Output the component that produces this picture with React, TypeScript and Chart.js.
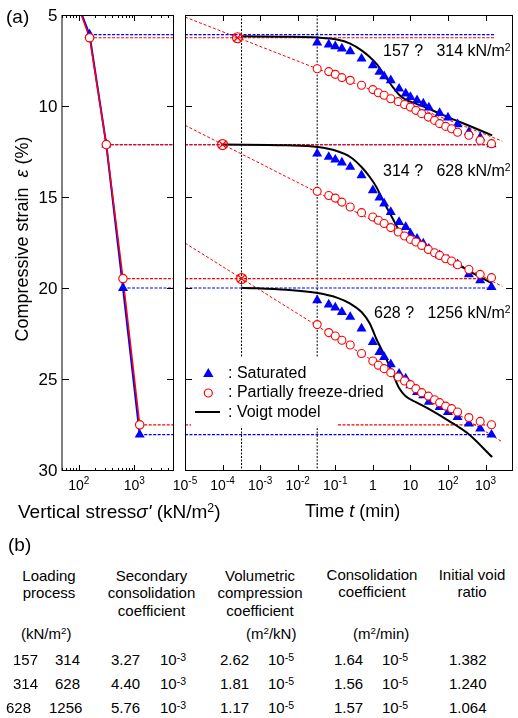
import React, { useEffect, useRef } from "react";
import { Chart, registerables } from "chart.js";

Chart.register(...registerables);

const FONT = '"Liberation Sans", Arial, Helvetica, sans-serif';
const RED = "#ff0000";
const BLUE = "#0000ff";

// ---------- axes ----------
const strainMin = 5;
const strainMax = 30;
const strainTickLabels = [5, 10, 15, 20, 25, 30];
const strainInnerTicks = [10, 15, 20, 25];

const stressMin = 50;
const stressMax = 5000;
const stressMajorTicks = [100, 1000];
const stressMinorTicks = [50, 60, 70, 80, 90, 200, 300, 400, 500, 600, 700, 800, 900, 2000, 3000, 4000, 5000];
const stressTickBase = ["10", "10"];
const stressTickExp = ["2", "3"];

const timeMin = 1e-5;
const timeMax = 5000;
const timeTicks = [1e-5, 1e-4, 1e-3, 1e-2, 1e-1, 1, 10, 100, 1000];
const timeTickBase = ["10", "10", "10", "10", "10", "1", "10", "10", "10"];
const timeTickExp = ["-5", "-4", "-3", "-2", "-1", "", "", "2", "3"];

// ---------- left panel: strain vs vertical stress ----------
const stressPath = [78.5, 157, 314, 628, 1256];
const satPathStrain = [3.7, 6.08, 12.12, 20.0, 28.06];
const pfdPathStrain = [3.7, 6.25, 12.12, 19.48, 27.52];
const levelStress = [157, 314, 628, 1256];
const satLevelStrain = [6.08, 12.12, 20.0, 28.06];
const pfdLevelStrain = [6.25, 12.12, 19.48, 27.52];
const levelLineEndTime = 1700;

// ---------- right panel: strain vs time ----------
const satTimes = [0.033, 0.067, 0.1, 0.15, 0.25, 0.5, 1, 1.5, 2, 3, 5, 7.5, 10, 15, 22, 31, 60, 100, 180, 360, 720, 1440];
const sat157to314 = [6.52, 6.63, 6.72, 6.85, 7.0, 7.4, 7.77, 8.13, 8.37, 8.59, 9.05, 9.32, 9.51, 9.69, 9.87, 10.09, 10.39, 10.64, 11.01, 11.43, 11.74, 12.11];
const sat314to628 = [12.62, 12.8, 12.95, 13.11, 13.35, 13.81, 14.63, 15.03, 15.36, 15.83, 16.38, 16.65, 17.01, 17.29, 17.56, 17.84, 18.21, 18.44, 18.7, 19.25, 19.58, 19.95];
const sat628to1256 = [20.68, 20.91, 21.08, 21.32, 21.59, 22.23, 22.97, 23.52, 23.79, 24.19, 24.71, 24.98, 25.35, 25.72, 25.9, 26.26, 26.54, 26.82, 27.09, 27.45, 27.73, 28.06];

const pfdTimes = [0.033, 0.067, 0.1, 0.15, 0.25, 0.5, 1, 1.4, 2, 3, 4.75, 7, 10, 14, 20, 30, 44, 60, 87, 125, 180, 360, 720, 1440];
const pfd157to314 = [7.95, 8.11, 8.26, 8.44, 8.59, 8.86, 9.1, 9.27, 9.41, 9.6, 9.76, 9.92, 10.06, 10.24, 10.42, 10.61, 10.79, 10.97, 11.12, 11.25, 11.44, 11.61, 11.89, 12.07];
const pfd314to628 = [14.69, 14.92, 15.06, 15.28, 15.55, 15.86, 16.1, 16.28, 16.46, 16.68, 16.92, 17.14, 17.33, 17.47, 17.66, 17.88, 18.06, 18.21, 18.39, 18.52, 18.72, 18.98, 19.25, 19.43];
const pfd628to1256 = [22.01, 22.45, 22.64, 22.87, 23.13, 23.6, 24.01, 24.24, 24.43, 24.65, 24.89, 25.11, 25.31, 25.53, 25.75, 25.94, 26.14, 26.3, 26.49, 26.63, 26.81, 27.12, 27.33, 27.51];

const voigtStartTimes = [3.2e-4, 1e-4, 3.2e-4];
const voigtStartStrain = [6.17, 12.12, 19.98];
const voigtTimes = [0.005, 0.034, 0.11, 0.25, 0.5, 0.83, 1.24, 2.05, 3.4, 5, 7.5, 14, 30, 100, 340, 1500];
const voigt157to314 = [6.19, 6.24, 6.35, 6.57, 6.94, 7.31, 7.67, 8.31, 8.96, 9.38, 9.65, 9.87, 10.14, 10.61, 11.06, 11.61];
const voigt314to628 = [12.16, 12.25, 12.47, 12.8, 13.35, 13.9, 14.45, 15.36, 16.19, 16.83, 17.2, 17.44, 17.84, 18.39, 19.03, 19.76];
const voigt628to1256 = [20.1, 20.28, 20.53, 20.86, 21.32, 21.95, 22.8, 23.7, 24.7, 25.5, 25.95, 26.27, 26.63, 27.27, 28.0, 29.29];

const fitTimes = [1e-5, 2800];
const fit157to314 = [5.11, 11.93];
const fit314to628 = [11.06, 19.91];
const fit628to1256 = [17.53, 28.46];

const crossTimes = [2.5e-4, 1e-4, 3.2e-4];
const crossStrain = [6.25, 12.12, 19.48];

const guideTimes = [3.2e-4, 0.033];

// ---------- table (b) ----------
const loadFrom = ["157", "314", "628"];
const loadTo = ["314", "628", "1256"];
const secondaryCoef = ["3.27", "4.40", "5.76"];
const secondaryExp = ["-3", "-3", "-3"];
const volumetricCoef = ["2.62", "1.81", "1.17"];
const volumetricExp = ["-5", "-5", "-5"];
const consolidationCoef = ["1.64", "1.56", "1.57"];
const consolidationExp = ["-5", "-5", "-5"];
const initialVoidRatio = ["1.382", "1.240", "1.064"];

const pts = (xs: number[], ys: number[]) => xs.map((x, i) => ({ x, y: ys[i] }));

function frameTicksPlugin(opts: any) {
  return {
    id: "frameTicks",
    afterDraw(chart: any) {
      const ctx = chart.ctx;
      const a = chart.chartArea;
      const xs = chart.scales.x;
      const ys = chart.scales.y;
      const L = Math.round(a.left);
      const R = Math.round(a.right);
      const T = Math.round(a.top);
      const B = Math.round(a.bottom);
      ctx.save();
      ctx.setLineDash([]);
      ctx.strokeStyle = "#000";
      ctx.lineWidth = 1;
      ctx.beginPath();
      ctx.moveTo(L, T + 0.5);
      ctx.lineTo(R + 1, T + 0.5);
      ctx.moveTo(L, B + 0.5);
      ctx.lineTo(R + 1, B + 0.5);
      ctx.moveTo(R + 0.5, T);
      ctx.lineTo(R + 0.5, B + 1);
      ctx.stroke();
      ctx.strokeStyle = opts.leftColor;
      ctx.lineWidth = opts.leftWidth;
      ctx.beginPath();
      const lx = opts.leftWidth % 2 === 1 ? L + 0.5 : L;
      ctx.moveTo(lx, T);
      ctx.lineTo(lx, B + 1);
      ctx.stroke();

      ctx.strokeStyle = "#000";
      ctx.lineWidth = 1;
      ctx.beginPath();
      for (const v of opts.yTicks) {
        const p = Math.round(ys.getPixelForValue(v)) + 0.5;
        ctx.moveTo(L, p);
        ctx.lineTo(L + 7, p);
        ctx.moveTo(R + 1, p);
        ctx.lineTo(R - 6, p);
      }
      for (const v of opts.xMajor) {
        const p = Math.round(xs.getPixelForValue(v)) + 0.5;
        ctx.moveTo(p, B + 1);
        ctx.lineTo(p, B - 5);
        ctx.moveTo(p, T);
        ctx.lineTo(p, T + 6);
      }
      for (const v of opts.xMinor) {
        const p = Math.round(xs.getPixelForValue(v)) + 0.5;
        ctx.moveTo(p, B + 1);
        ctx.lineTo(p, B - 2);
        ctx.moveTo(p, T);
        ctx.lineTo(p, T + 3);
      }
      ctx.stroke();

      ctx.fillStyle = "#000";
      ctx.textAlign = "left";
      ctx.textBaseline = "alphabetic";
      opts.xLabelValues.forEach((v: number, i: number) => {
        const p = xs.getPixelForValue(v);
        const b = opts.xLabelBase[i];
        const e = opts.xLabelExp[i];
        ctx.font = `14px ${FONT}`;
        const wb = ctx.measureText(b).width;
        ctx.font = `10px ${FONT}`;
        const we = e ? ctx.measureText(e).width : 0;
        const start = p - (wb + we) / 2;
        ctx.font = `14px ${FONT}`;
        ctx.fillText(b, start, 490);
        if (e) {
          ctx.font = `10px ${FONT}`;
          ctx.fillText(e, start + wb, 483.5);
        }
      });
      if (opts.yLabels) {
        ctx.font = `17px ${FONT}`;
        ctx.textAlign = "right";
        for (const v of opts.yLabels) {
          const p = ys.getPixelForValue(v);
          ctx.fillText(String(v), L - 4.5, p + 6);
        }
      }
      ctx.restore();
    },
  };
}

const legendPlugin = {
  id: "legendBox",
  afterDatasetsDraw(chart: any) {
    const ctx = chart.ctx;
    ctx.save();
    ctx.setLineDash([]);
    ctx.fillStyle = "#fff";
    ctx.fillRect(21, 357, 146, 69.5);
    // triangle
    const tx = 38.3;
    const ty = 374;
    const r = 6;
    ctx.fillStyle = BLUE;
    ctx.beginPath();
    ctx.moveTo(tx, ty - r);
    ctx.lineTo(tx + r * 0.866, ty + r / 2);
    ctx.lineTo(tx - r * 0.866, ty + r / 2);
    ctx.closePath();
    ctx.fill();
    // circle
    ctx.strokeStyle = RED;
    ctx.lineWidth = 1.2;
    ctx.fillStyle = "#fff";
    ctx.beginPath();
    ctx.arc(38.3, 393, 4, 0, Math.PI * 2);
    ctx.fill();
    ctx.stroke();
    // line
    ctx.strokeStyle = "#000";
    ctx.lineWidth = 2;
    ctx.beginPath();
    ctx.moveTo(25, 412);
    ctx.lineTo(50, 412);
    ctx.stroke();
    ctx.restore();
  },
};

const baseOptions = (padding: any, xMin: number, xMax: number) => ({
  responsive: false,
  maintainAspectRatio: false,
  animation: false,
  devicePixelRatio: 1,
  events: [],
  layout: { padding },
  plugins: { legend: { display: false }, tooltip: { enabled: false } },
  scales: {
    x: { type: "logarithmic", min: xMin, max: xMax, display: false },
    y: { type: "linear", min: strainMin, max: strainMax, reverse: true, display: false },
  },
});

const dotted = (data: any[], color: string, dash: number[] = [3, 1.5], width = 1.2) => ({
  data,
  showLine: true,
  pointRadius: 0,
  borderColor: color,
  borderWidth: width,
  borderDash: dash,
  fill: false,
});

function leftConfig(): any {
  const datasets: any[] = [];
  datasets.push({
    data: pts(levelStress, pfdLevelStrain),
    showLine: false,
    pointStyle: "circle",
    pointRadius: 4.2,
    borderColor: RED,
    backgroundColor: "#fff",
    borderWidth: 1.2,
  });
  datasets.push({
    data: pts(levelStress, satLevelStrain),
    showLine: false,
    pointStyle: "triangle",
    pointRadius: 5.8,
    borderColor: BLUE,
    backgroundColor: BLUE,
    borderWidth: 0,
  });
  datasets.push({ data: pts(stressPath, pfdPathStrain), showLine: true, pointRadius: 0, borderColor: RED, borderWidth: 1.5 });
  datasets.push({ data: pts(stressPath, satPathStrain), showLine: true, pointRadius: 0, borderColor: BLUE, borderWidth: 2 });
  levelStress.forEach((s, i) => {
    datasets.push(dotted([{ x: s, y: pfdLevelStrain[i] }, { x: stressMax, y: pfdLevelStrain[i] }], RED));
  });
  levelStress.forEach((s, i) => {
    datasets.push(dotted([{ x: s, y: satLevelStrain[i] }, { x: stressMax, y: satLevelStrain[i] }], BLUE));
  });
  return {
    type: "scatter",
    data: { datasets },
    options: baseOptions({ left: 62, right: 7, top: 15, bottom: 60 }, stressMin, stressMax),
    plugins: [
      frameTicksPlugin({
        leftColor: "#808080",
        leftWidth: 2,
        yTicks: strainInnerTicks,
        xMajor: stressMajorTicks,
        xMinor: stressMinorTicks,
        xLabelValues: stressMajorTicks,
        xLabelBase: stressTickBase,
        xLabelExp: stressTickExp,
        yLabels: strainTickLabels,
      }),
    ],
  };
}

function rightConfig(): any {
  const datasets: any[] = [];
  datasets.push({
    data: pts(crossTimes, crossStrain),
    showLine: false,
    pointStyle: "crossRot",
    pointRadius: 5,
    borderColor: RED,
    borderWidth: 1.2,
  });
  datasets.push({
    data: pts(crossTimes, crossStrain),
    showLine: false,
    pointStyle: "circle",
    pointRadius: 5,
    borderColor: RED,
    backgroundColor: "rgba(0,0,0,0)",
    borderWidth: 1.2,
  });
  [pfd157to314, pfd314to628, pfd628to1256].forEach((arr) =>
    datasets.push({
      data: pts(pfdTimes, arr),
      showLine: false,
      pointStyle: "circle",
      pointRadius: 4,
      borderColor: RED,
      backgroundColor: "#fff",
      borderWidth: 1.1,
    })
  );
  [sat157to314, sat314to628, sat628to1256].forEach((arr) =>
    datasets.push({
      data: pts(satTimes, arr),
      showLine: false,
      pointStyle: "triangle",
      pointRadius: 5.8,
      borderColor: BLUE,
      backgroundColor: BLUE,
      borderWidth: 0,
    })
  );
  [voigt157to314, voigt314to628, voigt628to1256].forEach((arr, i) =>
    datasets.push({
      data: [{ x: voigtStartTimes[i], y: voigtStartStrain[i] }, ...pts(voigtTimes, arr)],
      showLine: true,
      pointRadius: 0,
      borderColor: "#000",
      borderWidth: 2,
      cubicInterpolationMode: "monotone",
    })
  );
  [fit157to314, fit314to628, fit628to1256].forEach((arr) => datasets.push(dotted(pts(fitTimes, arr), RED, [3, 2], 1)));
  pfdLevelStrain.forEach((v) => datasets.push(dotted([{ x: timeMin, y: v }, { x: levelLineEndTime, y: v }], RED)));
  satLevelStrain.forEach((v) => datasets.push(dotted([{ x: timeMin, y: v }, { x: levelLineEndTime, y: v }], BLUE)));
  guideTimes.forEach((t) => datasets.push(dotted([{ x: t, y: strainMin }, { x: t, y: strainMax }], "#000", [2, 1.5], 1)));
  return {
    type: "scatter",
    data: { datasets },
    options: baseOptions({ left: 15, right: 0, top: 15, bottom: 60 }, timeMin, timeMax),
    plugins: [
      legendPlugin,
      frameTicksPlugin({
        leftColor: "#000",
        leftWidth: 1,
        yTicks: strainInnerTicks,
        xMajor: timeTicks.slice(1),
        xMinor: [],
        xLabelValues: timeTicks,
        xLabelBase: timeTickBase,
        xLabelExp: timeTickExp,
        yLabels: null,
      }),
    ],
  };
}

const Sup = ({ children, size = "0.65em", top = "-0.5em" }: any) => (
  <span style={{ fontSize: size, position: "relative", top }}>{children}</span>
);

// Text block positioned by its baseline
const T = ({ x, y, s, a = "left", w = 300, children, style }: any) => {
  const st: any = {
    position: "absolute",
    top: y - 0.8465 * s,
    fontSize: s,
    lineHeight: `${s}px`,
    whiteSpace: "pre",
    ...style,
  };
  if (a === "left") st.left = x;
  else if (a === "center") {
    st.left = x - w / 2;
    st.width = w;
    st.textAlign = "center";
  } else {
    st.left = x - w;
    st.width = w;
    st.textAlign = "right";
  }
  return <div style={st}>{children}</div>;
};

export default function App() {
  const leftRef = useRef<HTMLCanvasElement>(null);
  const rightRef = useRef<HTMLCanvasElement>(null);

  useEffect(() => {
    const c1 = new Chart(leftRef.current as HTMLCanvasElement, leftConfig());
    const c2 = new Chart(rightRef.current as HTMLCanvasElement, rightConfig());
    return () => {
      c1.destroy();
      c2.destroy();
    };
  }, []);

  const rowBase = [665, 689, 713];
  const fromLeft = [13, 13, 6];
  const toLeft = [55, 55, 49];

  return (
    <div
      style={{
        position: "absolute",
        left: 0,
        top: 0,
        width: 518,
        height: 718,
        overflow: "hidden",
        background: "#fff",
        fontFamily: FONT,
        color: "#000",
      }}
    >
      <canvas ref={leftRef} width={180} height={530} style={{ position: "absolute", left: 0, top: 0, width: 180, height: 530 }} />
      <canvas ref={rightRef} width={348} height={530} style={{ position: "absolute", left: 170, top: 0, width: 348, height: 530 }} />

      <T x={6} y={23} s={19}>(a)</T>

      <div
        style={{
          position: "absolute",
          left: 22 - 130,
          top: 239 - 10,
          width: 260,
          height: 20,
          lineHeight: "20px",
          fontSize: 18,
          textAlign: "center",
          whiteSpace: "pre",
          transform: "rotate(-90deg)",
        }}
      >
        Compressive strain  <i>ε</i> (%)
      </div>

      <T x={18} y={518} s={19}>
        Vertical stress<i>σ'</i> (kN/m<Sup>2</Sup>)
      </T>
      <T x={305} y={517} s={18}>
        Time <i>t</i> (min)
      </T>

      <T x={383} y={57} s={16}>
        157 ?   314 kN/m<Sup>2</Sup>
      </T>
      <T x={383} y={177} s={16}>
        314 ?   628 kN/m<Sup>2</Sup>
      </T>
      <T x={374} y={318.5} s={16}>
        628 ?   1256 kN/m<Sup>2</Sup>
      </T>

      <T x={228} y={378.5} s={16}>: Saturated</T>
      <T x={228} y={398} s={16}>: Partially freeze-dried</T>
      <T x={228} y={417.5} s={16}>: Voigt model</T>

      <T x={8} y={551} s={19}>(b)</T>

      <T x={49} y={581} s={15} a="center" w={100}>Loading</T>
      <T x={49} y={597.5} s={15} a="center" w={100}>process</T>
      <T x={151.5} y={581} s={15} a="center" w={110}>Secondary</T>
      <T x={151.5} y={597.5} s={15} a="center" w={110}>consolidation</T>
      <T x={151.5} y={616} s={15} a="center" w={110}>coefficient</T>
      <T x={260} y={581} s={15} a="center" w={110}>Volumetric</T>
      <T x={260} y={597.5} s={15} a="center" w={110}>compression</T>
      <T x={260} y={616} s={15} a="center" w={110}>coefficient</T>
      <T x={372} y={580} s={15} a="center" w={110}>Consolidation</T>
      <T x={372} y={596.5} s={15} a="center" w={110}>coefficient</T>
      <T x={472} y={580} s={15} a="center" w={100}>Initial void</T>
      <T x={472} y={596.5} s={15} a="center" w={100}>ratio</T>

      <T x={21} y={639} s={15}>
        (kN/m<Sup>2</Sup>)
      </T>
      <T x={246} y={639} s={15}>
        (m<Sup>2</Sup>/kN)
      </T>
      <T x={353} y={639} s={15}>
        (m<Sup>2</Sup>/min)
      </T>

      {rowBase.map((yb, i) => (
        <React.Fragment key={i}>
          <T x={fromLeft[i]} y={yb} s={15}>{loadFrom[i]}</T>
          <T x={toLeft[i]} y={yb} s={15}>{loadTo[i]}</T>
          <T x={111} y={yb} s={15}>{secondaryCoef[i]}</T>
          <T x={160} y={yb} s={15}>
            10<Sup size="0.7em" top="-0.45em">{secondaryExp[i]}</Sup>
          </T>
          <T x={220} y={yb} s={15}>{volumetricCoef[i]}</T>
          <T x={268} y={yb} s={15}>
            10<Sup size="0.7em" top="-0.45em">{volumetricExp[i]}</Sup>
          </T>
          <T x={334} y={yb} s={15}>{consolidationCoef[i]}</T>
          <T x={382} y={yb} s={15}>
            10<Sup size="0.7em" top="-0.45em">{consolidationExp[i]}</Sup>
          </T>
          <T x={449} y={yb} s={15}>{initialVoidRatio[i]}</T>
        </React.Fragment>
      ))}
    </div>
  );
}
